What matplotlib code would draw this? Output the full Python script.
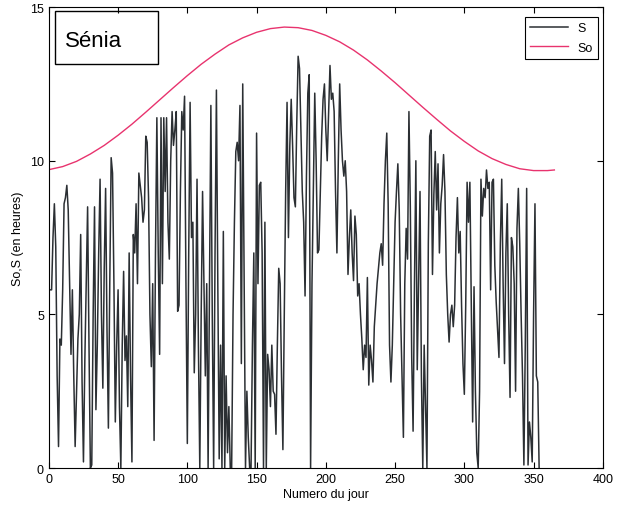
import matplotlib
matplotlib.use('Agg')
import matplotlib.pyplot as plt
from matplotlib.patches import Rectangle

plt.rcParams['font.family'] = ['Liberation Sans', 'DejaVu Sans']

# ============================================
# DATA
# ============================================
# daily sunshine duration S (hours), day 1 .. 354
S = [
    5.8, 5.8, 7.5, 8.6, 7.2, 3.0, 0.7, 4.2, 4.0, 5.8,
    8.6, 8.8, 9.2, 8.4, 6.0, 3.7, 5.8, 3.0, 0.7, 2.5,
    4.2, 5.0, 7.6, 2.8, 0.2, 3.5, 6.0, 8.5, 4.0, 0.0,
    0.1, 5.0, 8.5, 1.9, 4.0, 7.0, 9.4, 5.0, 2.6, 6.5,
    9.1, 4.5, 1.3, 6.0, 10.1, 9.6, 6.0, 1.5, 4.0, 5.8,
    2.0, 0.0, 4.0, 6.4, 3.5, 4.3, 2.0, 7.0, 3.0, 0.2,
    7.6, 7.0, 8.6, 6.0, 9.6, 9.2, 8.8, 8.0, 8.4, 10.8,
    10.6, 8.8, 5.0, 3.3, 6.0, 0.9, 7.0, 11.4, 7.0, 3.7,
    11.4, 6.0, 11.4, 9.0, 11.4, 8.0, 6.8, 10.0, 11.6, 10.5,
    11.0, 11.6, 5.1, 5.3, 9.0, 11.6, 11.0, 12.1, 6.0, 0.8,
    7.0, 11.9, 7.5, 8.0, 3.1, 5.0, 9.4, 4.0, 0.0, 5.0,
    9.0, 6.0, 3.0, 6.0, 0.0, 6.0, 11.8, 5.0, 0.0, 7.0,
    12.3, 6.0, 0.3, 4.0, 0.0, 7.7, 0.0, 3.0, 0.5, 2.0,
    0.0, 0.0, 5.0, 8.0, 10.3, 10.6, 10.0, 11.8, 3.4, 12.5,
    6.0, 0.0, 2.5, 1.0, 0.0, 0.0, 4.0, 7.0, 0.0, 10.9,
    6.0, 9.2, 9.3, 7.0, 0.0, 8.0, 0.0, 3.7, 3.2, 2.0,
    4.0, 2.5, 2.4, 1.1, 4.0, 6.5, 6.0, 3.0, 0.6, 5.0,
    9.0, 11.9, 7.5, 10.5, 12.0, 10.5, 8.8, 8.5, 11.2, 13.4,
    13.0, 11.0, 9.0, 8.0, 5.6, 9.5, 12.2, 12.8, 0.0, 6.0,
    9.0, 12.2, 10.0, 7.0, 7.1, 9.0, 10.8, 12.0, 12.5, 11.0,
    10.0, 11.5, 13.1, 12.0, 12.2, 11.6, 9.0, 7.0, 10.0, 12.5,
    11.0, 10.0, 9.5, 10.0, 9.0, 6.3, 7.5, 8.4, 7.0, 6.1,
    8.2, 7.6, 5.6, 6.0, 5.0, 4.2, 3.2, 4.0, 3.6, 6.2,
    2.7, 4.0, 3.5, 2.8, 4.6, 5.3, 6.0, 6.5, 7.0, 7.3,
    6.6, 8.6, 10.0, 10.9, 8.6, 4.0, 2.8, 4.0, 6.0, 8.0,
    9.0, 9.9, 8.4, 5.0, 3.0, 1.0, 6.0, 7.8, 6.8, 11.6,
    8.5, 3.6, 1.2, 6.0, 10.0, 3.2, 6.0, 9.0, 3.0, 0.0,
    4.0, 2.0, 0.0, 7.3, 10.8, 11.0, 6.3, 8.9, 10.3, 8.4,
    9.9, 7.0, 8.6, 9.2, 10.2, 9.0, 6.3, 5.0, 4.1, 5.0,
    5.3, 4.6, 5.3, 7.5, 8.8, 7.0, 7.7, 5.3, 3.4, 2.4,
    5.3, 9.3, 8.0, 9.3, 5.5, 1.5, 5.9, 2.5, 0.5, 0.0,
    2.5, 9.4, 8.2, 9.1, 8.8, 9.7, 9.1, 9.3, 5.8, 9.3,
    9.4, 6.6, 5.4, 4.5, 3.6, 7.3, 9.4, 6.0, 3.4, 7.0,
    8.6, 5.0, 2.3, 7.5, 7.2, 6.0, 2.5, 7.8, 9.1, 7.3,
    5.0, 3.0, 0.1, 4.0, 9.1, 0.1, 1.5, 1.0, 0.2, 5.0,
    8.6, 3.0, 2.8, 0.0,
]
days_S = list(range(1, len(S) + 1))

# day length So (hours), read every 10 days
days_So = [0, 10, 20, 30, 40, 50, 60, 70, 80, 90, 100, 110, 120, 130,
           140, 150, 160, 170, 180, 190, 200, 210, 220, 230, 240, 250,
           260, 270, 280, 290, 300, 310, 320, 330, 340, 350, 360, 365]
So = [9.71, 9.81, 9.98, 10.22, 10.50, 10.83, 11.19, 11.58, 11.98, 12.38,
      12.77, 13.14, 13.47, 13.77, 14.00, 14.18, 14.30, 14.35, 14.33, 14.24,
      14.08, 13.87, 13.60, 13.28, 12.92, 12.54, 12.14, 11.74, 11.35, 10.97,
      10.63, 10.32, 10.07, 9.88, 9.74, 9.68, 9.68, 9.70]

# ============================================
# PLOT
# ============================================
fig = plt.figure(figsize=(6.26, 5.06), dpi=100)
ax = fig.add_axes([0.078, 0.073, 0.885, 0.911])

ax.plot(days_S, S, color='#2b2f33', lw=1.1, label='S')
ax.plot(days_So, So, color='#e8336e', lw=1.0, label='So')

ax.set_xlim(0, 400)
ax.set_ylim(0, 15)
ax.set_xticks(range(0, 401, 50))
ax.set_yticks([0, 5, 10, 15])
ax.tick_params(direction='in', top=True, right=True, length=4, labelsize=9)
ax.set_xlabel('Numero du jour', fontsize=9, labelpad=2)
ax.set_ylabel('So,S (en heures)', fontsize=9, labelpad=4)

# station name box
ax.add_patch(Rectangle((0.011, 0.876), 0.186, 0.115, transform=ax.transAxes,
                       fill=False, edgecolor='black', lw=1.0))
ax.text(0.030, 0.928, 'Sénia', transform=ax.transAxes, fontsize=16,
        va='center', ha='left')

leg = ax.legend(loc='upper right', bbox_to_anchor=(0.991, 0.978),
                borderaxespad=0, fontsize=9, fancybox=False,
                edgecolor='black', framealpha=1, handlelength=3.0,
                labelspacing=0.6)
leg.get_frame().set_linewidth(0.8)

fig.savefig('out.png', dpi=100)
